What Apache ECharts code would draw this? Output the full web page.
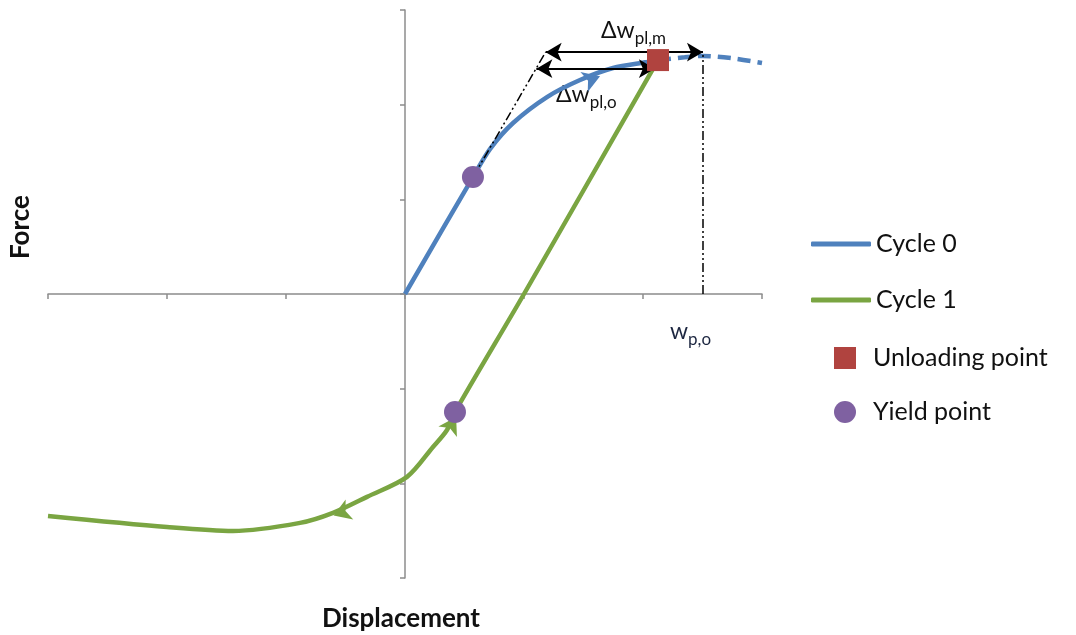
<!DOCTYPE html>
<html>
<head>
<meta charset="utf-8">
<script src="https://cdn.jsdelivr.net/npm/echarts@6/dist/echarts.min.js"></script>
<style>
  html, body { margin: 0; padding: 0; background: #fff; }
  #chart { width: 1076px; height: 635px; }
</style>
</head>
<body>
<div id="chart"></div>
<script>
// values (1 unit = one axis tick)
const cycle0Disp = [0, 0.571, 0.714, 0.908, 1.193, 1.471, 1.748, 2.034, 2.126]
const cycle0Force = [0, 1.235, 1.531, 1.806, 2.08, 2.26, 2.387, 2.45, 2.471]

const cycle0ExtDisp = [2.126, 2.35, 2.5, 2.75, 3.0]
const cycle0ExtForce = [2.471, 2.5, 2.515, 2.49, 2.44]

const cycle1Disp = [2.126, 1.0, 0.42, 0.353, 0.235, 0.017, -0.319, -0.605, -0.882, -1.445, -2.0, -3.0]
const cycle1Force = [2.471, 0, -1.246, -1.436, -1.616, -1.932, -2.143, -2.312, -2.418, -2.503, -2.461, -2.344]

const unloadingPoint = [[2.126, 2.471]]
const yieldPoints = [[0.571, 1.235], [0.42, -1.246]]

// arrow heads along the curves: [disp, force, rotation, colour]
const arrowMarks = [[1.639, 2.3, -70, '#4f81bd'], [-0.6, -2.34, 111, '#7aa542'], [0.43, -1.3, -30, '#7aa542']]

const wPlastic = 2.504
const dwMForce = 2.555
const dwOForce = 2.38
const tangentStart = [0.571, 1.235]
const tangentEnd = [1.182, 2.555]

const zip = (xs, ys) => xs.map((x, i) => [x, ys[i]])

const font = 'Lato, "Open Sans", sans-serif'
const blue = '#4f81bd'
const green = '#7aa542'
const purple = '#7f61a1'
const red = '#b0433f'

const axisCommon = {
  type: 'value',
  min: -3,
  max: 3,
  interval: 1,
  axisLine: { onZero: true, lineStyle: { color: '#8c8c8c', width: 1.5 } },
  axisTick: { show: true, inside: false, length: 5, lineStyle: { color: '#8c8c8c', width: 1.5 } },
  axisLabel: { show: false },
  splitLine: { show: false }
}

const dashDot = { color: '#000', width: 1.5, type: [9, 3, 2, 3, 2, 3] }
const arrowLine = { color: '#000', width: 2, type: 'solid' }

const subRich = (fill) => ({
  a: { fontFamily: font, fontSize: 23, lineHeight: 28, verticalAlign: 'top', fill: fill },
  b: { fontFamily: font, fontSize: 17, lineHeight: 16, verticalAlign: 'bottom', fill: fill }
})

const chart = echarts.init(document.getElementById('chart'))

chart.setOption({
  animation: false,
  backgroundColor: '#fff',
  grid: { left: 48, right: 314, top: 10, bottom: 57 },
  xAxis: axisCommon,
  yAxis: axisCommon,
  legend: [{
    data: [{ name: 'Cycle 0', icon: 'roundRect' }, { name: 'Cycle 1', icon: 'roundRect' }],
    orient: 'vertical',
    left: 806,
    top: 226,
    itemWidth: 60,
    itemHeight: 5,
    itemGap: 30,
    selectedMode: false,
    textStyle: { fontFamily: font, fontSize: 25, lineHeight: 26, color: '#111' }
  }, {
    data: ['Unloading point', 'Yield point'],
    orient: 'vertical',
    left: 829,
    top: 340,
    itemWidth: 22,
    itemHeight: 22,
    itemGap: 28,
    selectedMode: false,
    itemStyle: { opacity: 1 },
    textStyle: { fontFamily: font, fontSize: 25, lineHeight: 26, color: '#111', padding: [0, 0, 0, 12] }
  }],
  graphic: [{
    type: 'text', x: 401, y: 619,
    style: { text: 'Displacement', font: 'bold 26px ' + font, fill: '#111', align: 'center', verticalAlign: 'middle' }
  }, {
    type: 'text', x: 21, y: 227, rotation: Math.PI / 2,
    style: { text: 'Force', font: 'bold 26px ' + font, fill: '#111', align: 'center', verticalAlign: 'middle' }
  }, {
    type: 'text', x: 601, y: 33,
    style: { text: '{a|Δw}{b|pl,m}', align: 'left', verticalAlign: 'middle', rich: subRich('#111') }
  }, {
    type: 'text', x: 556, y: 97,
    style: { text: '{a|Δw}{b|pl,o}', align: 'left', verticalAlign: 'middle', rich: subRich('#111') }
  }, {
    type: 'text', x: 670, y: 334,
    style: { text: '{a|w}{b|p,o}', align: 'left', verticalAlign: 'middle', rich: subRich('#1c2640') }
  }],
  series: [{
    name: 'guides',
    type: 'line',
    data: [],
    silent: true,
    markLine: {
      silent: true,
      symbol: 'none',
      label: { show: false },
      data: [
        [{ coord: tangentStart, lineStyle: dashDot }, { coord: tangentEnd }],
        [{ coord: [wPlastic, 0], lineStyle: dashDot }, { coord: [wPlastic, dwMForce] }],
        [{ coord: [tangentEnd[0], dwMForce], symbol: 'arrow', symbolSize: [14, 16], lineStyle: arrowLine },
         { coord: [wPlastic, dwMForce], symbol: 'arrow', symbolSize: [14, 16] }],
        [{ coord: [1.104, dwOForce], symbol: 'arrow', symbolSize: [14, 16], lineStyle: arrowLine },
         { coord: [2.1, dwOForce], symbol: 'arrow', symbolSize: [14, 16] }]
      ]
    }
  }, {
    name: 'Cycle 0',
    type: 'line',
    data: zip(cycle0Disp, cycle0Force),
    smooth: 0.3,
    symbol: 'none',
    color: blue,
    itemStyle: { color: blue },
    lineStyle: { width: 4.5, color: blue },
    z: 3
  }, {
    name: 'cycle0Ext',
    type: 'line',
    data: zip(cycle0ExtDisp, cycle0ExtForce),
    smooth: 0.3,
    symbol: 'none',
    lineStyle: { width: 4.5, color: blue, type: [13, 7] },
    z: 3
  }, {
    name: 'Cycle 1',
    type: 'line',
    data: zip(cycle1Disp, cycle1Force),
    smooth: 0.3,
    symbol: 'none',
    color: green,
    itemStyle: { color: green },
    lineStyle: { width: 4.5, color: green },
    z: 3
  }, {
    name: 'arrows',
    type: 'scatter',
    data: arrowMarks.map(a => ({ value: [a[0], a[1]], symbolRotate: a[2], itemStyle: { color: a[3], opacity: 1 } })),
    symbol: 'arrow',
    symbolSize: [16, 17],
    silent: true,
    z: 4
  }, {
    name: 'Unloading point',
    type: 'scatter',
    data: unloadingPoint,
    symbol: 'rect',
    symbolSize: 22,
    color: red,
    itemStyle: { color: red, opacity: 1 },
    z: 5
  }, {
    name: 'Yield point',
    type: 'scatter',
    data: yieldPoints,
    symbol: 'circle',
    symbolSize: 22,
    color: purple,
    itemStyle: { color: purple, opacity: 1 },
    z: 5
  }]
})

window.addEventListener('resize', () => chart.resize())
</script>
</body>
</html>
